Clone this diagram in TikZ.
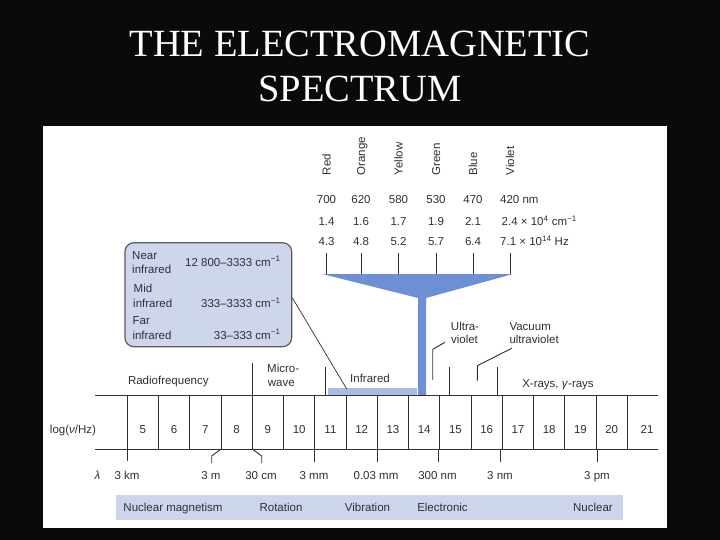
\documentclass[tikz,border=0pt]{standalone}
\usepackage{fontspec}
\setmainfont{Liberation Sans}
\newfontfamily\titlefont{Liberation Serif}
\definecolor{bg}{HTML}{0A0A0A}
\definecolor{boxfill}{HTML}{CED6EE}
\definecolor{barfill}{HTML}{CCD5EC}
\definecolor{funnelblue}{HTML}{6E8FD3}
\definecolor{irbar}{HTML}{A9BCE5}
\definecolor{ink}{HTML}{303030}
\definecolor{boxline}{HTML}{5A5A5A}
\begin{document}
\begin{tikzpicture}[x=1pt,y=-1pt,
  lbl/.style={font=\fontsize{11.5}{13.5}\selectfont, inner sep=0pt, text=ink},
  ttl/.style={font=\titlefont\fontsize{38.5}{40}\selectfont, inner sep=0pt, text=white},
  ln/.style={draw=ink, line width=0.9pt}]
\fill[bg] (0,0) rectangle (720,540);
\useasboundingbox (0,0) rectangle (720,540);
\fill[white] (43,126) rectangle (667,528);

% title
\node[ttl, anchor=base] (t1) at (360,57) {THE ELECTROMAGNETIC};
\node[ttl, anchor=base] (t2) at (360,102) {SPECTRUM};

% nuclear bar
\fill[barfill] (116,494.5) rectangle (622.5,520);
\node[lbl, anchor=base] (nm) at (173,511) {Nuclear magnetism};
\node[lbl, anchor=base] (rot) at (281,511) {Rotation};
\node[lbl, anchor=base] (vib) at (367.5,511) {Vibration};
\node[lbl, anchor=base] (ele) at (442.5,511) {Electronic};
\node[lbl, anchor=base] (nuc) at (593,511) {Nuclear};

% funnel and IR bar
\fill[irbar] (328,388) rectangle (417,395);
\fill[funnelblue] (322,274) -- (513,274) -- (426,298) -- (426,395) -- (418,395) -- (418,298) -- cycle;

% axis
\draw[ln] (95,395) -- (658,395);
\draw[ln] (95,449) -- (658,449);
\foreach \k in {0,...,16} \draw[ln] ({127.3+31.25*\k},395) -- ++(0,54);
\foreach \n [count=\i from 0] in {5,...,20}
  \node[lbl, anchor=base] (ax\n) at ({127.3+31.25*(\i+0.5)},433) {\n};
\node[lbl, anchor=base] (ax21) at (647,433) {21};
\node[lbl, anchor=base] (logl) at (73,433) {log(\textit{ν}/Hz)};

% region separators above axis
\draw[ln] (252.3,363) -- (252.3,395);
\draw[ln] (325.7,367) -- (325.7,395);
\node[lbl, anchor=base] (rf) at (168.3,384) {Radiofrequency};
\node[lbl, anchor=base west] (mw1) at (267,372.5) {Micro-};
\node[lbl, anchor=base west] (mw2) at (267.7,386) {wave};
\node[lbl, anchor=base] (ir) at (370,382.7) {Infrared};
\node[lbl, anchor=base] (xr) at (558,387.3) {X-rays, \textit{γ}-rays};

% UV pointers
\node[lbl, anchor=base] (uv1) at (465,330) {Ultra-};
\node[lbl, anchor=base] (uv2) at (464.5,343.3) {violet};
\node[lbl, anchor=base west] (vuv1) at (509.3,330) {Vacuum};
\node[lbl, anchor=base west] (vuv2) at (509.3,343.3) {ultraviolet};
\coordinate (uvp) at (445,342.3);
\coordinate (vuvp) at (511.7,348.3);
\draw[ln] (432.7,380) -- (432.7,349.3) -- (uvp);
\draw[ln] (449,366.7) -- (449,395);
\draw[ln] (477.3,380.7) -- (477.3,365.7) -- (vuvp);
\draw[ln] (497.3,366.7) -- (497.3,395);

% wavelength ticks
\node[lbl, anchor=base] (lam) at (97.5,479.5) {\textit{λ}};
\draw[ln] (127.3,449) -- (127.3,461);
\draw[ln] (221,449) -- (211.7,456) -- (211.7,463);
\draw[ln] (252.3,449) -- (261.7,456) -- (261.7,463);
\draw[ln] (314.8,449) -- (314.8,461.5);
\draw[ln] (377.3,449) -- (377.3,461.5);
\draw[ln] (438.8,449) -- (438.8,461.5);
\draw[ln] (500,449) -- (500,461.5);
\draw[ln] (597,449) -- (597,461.5);
\node[lbl, anchor=base] (w1) at (127,479.5) {3 km};
\node[lbl, anchor=base] (w2) at (211,479.5) {3 m};
\node[lbl, anchor=base] (w3) at (261,479.5) {30 cm};
\node[lbl, anchor=base] (w4) at (314,479.5) {3 mm};
\node[lbl, anchor=base] (w5) at (376,479.5) {0.03 mm};
\node[lbl, anchor=base] (w6) at (437.5,479.5) {300 nm};
\node[lbl, anchor=base] (w7) at (500,479.5) {3 nm};
\node[lbl, anchor=base] (w8) at (597,479.5) {3 pm};

% visible colours
\foreach \x/\c/\a/\b/\d in {326.5/Red/700/1.4/4.3, 361/Orange/620/1.6/4.8, 398.5/Yellow/580/1.7/5.2, 436/Green/530/1.9/5.7, 473/Blue/470/2.1/6.4}{
  \draw[ln] (\x,253) -- (\x,274);
  \node[lbl, rotate=90, anchor=base west] (c\c) at (\x+4.2,175.5) {\c};
  \node[lbl, anchor=base] (nm\c) at (\x,204) {\a};
  \node[lbl, anchor=base] (wn\c) at (\x,225.5) {\b};
  \node[lbl, anchor=base] (hz\c) at (\x,245.5) {\d};
}
\draw[ln] (510,253) -- (510,274);
\node[lbl, rotate=90, anchor=base west] (cViolet) at (514.2,175.5) {Violet};
\node[lbl, anchor=base west] (nmV) at (500,204) {420 nm};
\node[lbl, anchor=base west] (wnV) at (501.5,225.5) {2.4 × 10\textsuperscript{4} cm\textsuperscript{−1}};
\node[lbl, anchor=base west] (hzV) at (500,245.5) {7.1 × 10\textsuperscript{14} Hz};

% infrared box
\node[draw=boxline, line width=1.2pt, fill=boxfill, rounded corners=9pt,
      minimum width=166.7pt, minimum height=104pt, inner sep=0pt] (irbox) at (208.3,294.7) {};
\node[lbl, anchor=base west] (b1) at (132,259.3) {Near};
\node[lbl, anchor=base west] (b2) at (132,273.3) {infrared};
\node[lbl, anchor=base east] (b3) at (280.7,266) {12 800–3333 cm\textsuperscript{−1}};
\node[lbl, anchor=base west] (b4) at (133.5,292.7) {Mid};
\node[lbl, anchor=base west] (b5) at (133,307.7) {infrared};
\node[lbl, anchor=base east] (b6) at (280.7,307.7) {333–3333 cm\textsuperscript{−1}};
\node[lbl, anchor=base west] (b7) at (132.5,324) {Far};
\node[lbl, anchor=base west] (b8) at (132.3,339) {infrared};
\node[lbl, anchor=base east] (b9) at (280.7,339) {33–333 cm\textsuperscript{−1}};
\coordinate (irend) at (346.7,389);
\draw[ln, line width=0.7pt] ([yshift=-3pt]irbox.east) -- (irend);
\end{tikzpicture}
\end{document}
